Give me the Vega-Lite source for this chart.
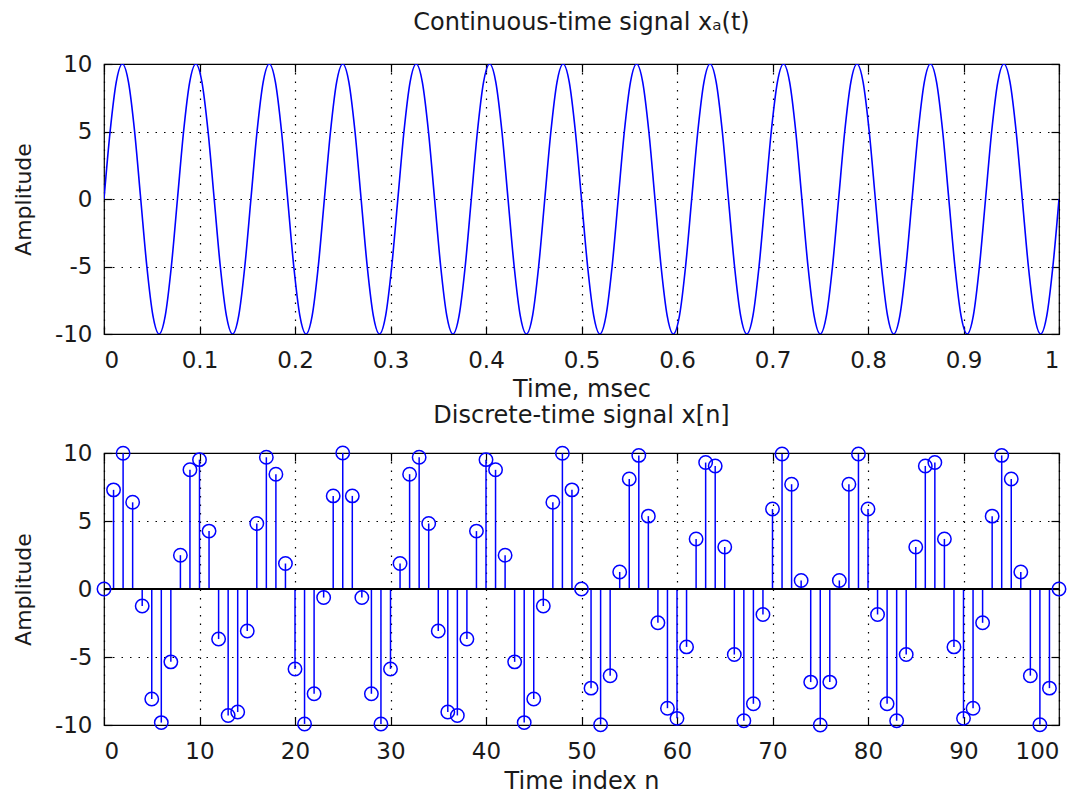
{
  "$schema": "https://vega.github.io/schema/vega-lite/v6.json",
  "background": "white",
  "padding": {"left": 11, "top": 10, "right": 20, "bottom": 0},
  "spacing": 1,
  "datasets": {
    "cont": [
      {"t":0,"x":0},{"t":0.00641,"x":5},{"t":0.01282,"x":8.66},{"t":0.01923,"x":10},{"t":0.02564,"x":8.66},{"t":0.03205,"x":5},{"t":0.03846,"x":0},{"t":0.04487,"x":-5},{"t":0.05128,"x":-8.66},{"t":0.05769,"x":-10},{"t":0.0641,"x":-8.66},{"t":0.07051,"x":-5},
      {"t":0.07692,"x":0},{"t":0.08333,"x":5},{"t":0.08974,"x":8.66},{"t":0.09615,"x":10},{"t":0.10256,"x":8.66},{"t":0.10897,"x":5},{"t":0.11538,"x":0},{"t":0.12179,"x":-5},{"t":0.12821,"x":-8.66},{"t":0.13462,"x":-10},{"t":0.14103,"x":-8.66},{"t":0.14744,"x":-5},
      {"t":0.15385,"x":0},{"t":0.16026,"x":5},{"t":0.16667,"x":8.66},{"t":0.17308,"x":10},{"t":0.17949,"x":8.66},{"t":0.1859,"x":5},{"t":0.19231,"x":0},{"t":0.19872,"x":-5},{"t":0.20513,"x":-8.66},{"t":0.21154,"x":-10},{"t":0.21795,"x":-8.66},{"t":0.22436,"x":-5},
      {"t":0.23077,"x":0},{"t":0.23718,"x":5},{"t":0.24359,"x":8.66},{"t":0.25,"x":10},{"t":0.25641,"x":8.66},{"t":0.26282,"x":5},{"t":0.26923,"x":0},{"t":0.27564,"x":-5},{"t":0.28205,"x":-8.66},{"t":0.28846,"x":-10},{"t":0.29487,"x":-8.66},{"t":0.30128,"x":-5},
      {"t":0.30769,"x":0},{"t":0.3141,"x":5},{"t":0.32051,"x":8.66},{"t":0.32692,"x":10},{"t":0.33333,"x":8.66},{"t":0.33974,"x":5},{"t":0.34615,"x":0},{"t":0.35256,"x":-5},{"t":0.35897,"x":-8.66},{"t":0.36538,"x":-10},{"t":0.37179,"x":-8.66},{"t":0.37821,"x":-5},
      {"t":0.38462,"x":0},{"t":0.39103,"x":5},{"t":0.39744,"x":8.66},{"t":0.40385,"x":10},{"t":0.41026,"x":8.66},{"t":0.41667,"x":5},{"t":0.42308,"x":0},{"t":0.42949,"x":-5},{"t":0.4359,"x":-8.66},{"t":0.44231,"x":-10},{"t":0.44872,"x":-8.66},{"t":0.45513,"x":-5},
      {"t":0.46154,"x":0},{"t":0.46795,"x":5},{"t":0.47436,"x":8.66},{"t":0.48077,"x":10},{"t":0.48718,"x":8.66},{"t":0.49359,"x":5},{"t":0.5,"x":0},{"t":0.50641,"x":-5},{"t":0.51282,"x":-8.66},{"t":0.51923,"x":-10},{"t":0.52564,"x":-8.66},{"t":0.53205,"x":-5},
      {"t":0.53846,"x":0},{"t":0.54487,"x":5},{"t":0.55128,"x":8.66},{"t":0.55769,"x":10},{"t":0.5641,"x":8.66},{"t":0.57051,"x":5},{"t":0.57692,"x":0},{"t":0.58333,"x":-5},{"t":0.58974,"x":-8.66},{"t":0.59615,"x":-10},{"t":0.60256,"x":-8.66},{"t":0.60897,"x":-5},
      {"t":0.61538,"x":0},{"t":0.62179,"x":5},{"t":0.62821,"x":8.66},{"t":0.63462,"x":10},{"t":0.64103,"x":8.66},{"t":0.64744,"x":5},{"t":0.65385,"x":0},{"t":0.66026,"x":-5},{"t":0.66667,"x":-8.66},{"t":0.67308,"x":-10},{"t":0.67949,"x":-8.66},{"t":0.6859,"x":-5},
      {"t":0.69231,"x":0},{"t":0.69872,"x":5},{"t":0.70513,"x":8.66},{"t":0.71154,"x":10},{"t":0.71795,"x":8.66},{"t":0.72436,"x":5},{"t":0.73077,"x":0},{"t":0.73718,"x":-5},{"t":0.74359,"x":-8.66},{"t":0.75,"x":-10},{"t":0.75641,"x":-8.66},{"t":0.76282,"x":-5},
      {"t":0.76923,"x":0},{"t":0.77564,"x":5},{"t":0.78205,"x":8.66},{"t":0.78846,"x":10},{"t":0.79487,"x":8.66},{"t":0.80128,"x":5},{"t":0.80769,"x":0},{"t":0.8141,"x":-5},{"t":0.82051,"x":-8.66},{"t":0.82692,"x":-10},{"t":0.83333,"x":-8.66},{"t":0.83974,"x":-5},
      {"t":0.84615,"x":0},{"t":0.85256,"x":5},{"t":0.85897,"x":8.66},{"t":0.86538,"x":10},{"t":0.87179,"x":8.66},{"t":0.87821,"x":5},{"t":0.88462,"x":0},{"t":0.89103,"x":-5},{"t":0.89744,"x":-8.66},{"t":0.90385,"x":-10},{"t":0.91026,"x":-8.66},{"t":0.91667,"x":-5},
      {"t":0.92308,"x":0},{"t":0.92949,"x":5},{"t":0.9359,"x":8.66},{"t":0.94231,"x":10},{"t":0.94872,"x":8.66},{"t":0.95513,"x":5},{"t":0.96154,"x":0},{"t":0.96795,"x":-5},{"t":0.97436,"x":-8.66},{"t":0.98077,"x":-10},{"t":0.98718,"x":-8.66},{"t":0.99359,"x":-5},
      {"t":1,"x":0}
    ],
    "disc": [
      {"n":0,"x":0},{"n":1,"x":7.29},{"n":2,"x":9.98},{"n":3,"x":6.374},{"n":4,"x":-1.253},{"n":5,"x":-8.09},{"n":6,"x":-9.823},{"n":7,"x":-5.358},{"n":8,"x":2.487},{"n":9,"x":8.763},
      {"n":10,"x":9.511},{"n":11,"x":4.258},{"n":12,"x":-3.681},{"n":13,"x":-9.298},{"n":14,"x":-9.048},{"n":15,"x":-3.09},{"n":16,"x":4.818},{"n":17,"x":9.686},{"n":18,"x":8.443},{"n":19,"x":1.874},
      {"n":20,"x":-5.878},{"n":21,"x":-9.921},{"n":22,"x":-7.705},{"n":23,"x":-0.628},{"n":24,"x":6.845},{"n":25,"x":10},{"n":26,"x":6.845},{"n":27,"x":-0.628},{"n":28,"x":-7.705},{"n":29,"x":-9.921},
      {"n":30,"x":-5.878},{"n":31,"x":1.874},{"n":32,"x":8.443},{"n":33,"x":9.686},{"n":34,"x":4.818},{"n":35,"x":-3.09},{"n":36,"x":-9.048},{"n":37,"x":-9.298},{"n":38,"x":-3.681},{"n":39,"x":4.258},
      {"n":40,"x":9.511},{"n":41,"x":8.763},{"n":42,"x":2.487},{"n":43,"x":-5.358},{"n":44,"x":-9.823},{"n":45,"x":-8.09},{"n":46,"x":-1.253},{"n":47,"x":6.374},{"n":48,"x":9.98},{"n":49,"x":7.29},
      {"n":50,"x":0},{"n":51,"x":-7.29},{"n":52,"x":-9.98},{"n":53,"x":-6.374},{"n":54,"x":1.253},{"n":55,"x":8.09},{"n":56,"x":9.823},{"n":57,"x":5.358},{"n":58,"x":-2.487},{"n":59,"x":-8.763},
      {"n":60,"x":-9.511},{"n":61,"x":-4.258},{"n":62,"x":3.681},{"n":63,"x":9.298},{"n":64,"x":9.048},{"n":65,"x":3.09},{"n":66,"x":-4.818},{"n":67,"x":-9.686},{"n":68,"x":-8.443},{"n":69,"x":-1.874},
      {"n":70,"x":5.878},{"n":71,"x":9.921},{"n":72,"x":7.705},{"n":73,"x":0.628},{"n":74,"x":-6.845},{"n":75,"x":-10},{"n":76,"x":-6.845},{"n":77,"x":0.628},{"n":78,"x":7.705},{"n":79,"x":9.921},
      {"n":80,"x":5.878},{"n":81,"x":-1.874},{"n":82,"x":-8.443},{"n":83,"x":-9.686},{"n":84,"x":-4.818},{"n":85,"x":3.09},{"n":86,"x":9.048},{"n":87,"x":9.298},{"n":88,"x":3.681},{"n":89,"x":-4.258},
      {"n":90,"x":-9.511},{"n":91,"x":-8.763},{"n":92,"x":-2.487},{"n":93,"x":5.358},{"n":94,"x":9.823},{"n":95,"x":8.09},{"n":96,"x":1.253},{"n":97,"x":-6.374},{"n":98,"x":-9.98},{"n":99,"x":-7.29},
      {"n":100,"x":0}
    ]
  },
  "vconcat": [
    {
      "width": 955,
      "height": 270,
      "title": {"text": "Continuous-time signal xₐ(t)", "offset": 18},
      "data": {"name": "cont"},
      "layer": [
        {
          "mark": {"type": "line", "color": "#0000ff", "strokeWidth": 1.6, "interpolate": "monotone", "clip": true},
          "encoding": {
            "x": {"field": "t", "type": "quantitative", "scale": {"domain": [0, 1], "nice": false, "zero": false},
                  "axis": {"values": [0,0.1,0.2,0.3,0.4,0.5,0.6,0.7,0.8,0.9,1], "format": "~g", "title": "Time, msec", "titlePadding": 5}},
            "y": {"field": "x", "type": "quantitative", "scale": {"domain": [-10, 10], "nice": false},
                  "axis": {"values": [-10,-5,0,5,10], "title": "Amplitude", "labelExpr": "replace(datum.label, '−', '-')"}}
          }
        },
        {
          "mark": {"type": "line", "opacity": 0},
          "encoding": {
            "x": {"field": "t", "type": "quantitative", "axis": {"orient": "top", "values": [0,0.1,0.2,0.3,0.4,0.5,0.6,0.7,0.8,0.9,1], "labels": false, "grid": false, "title": null}},
            "y": {"field": "x", "type": "quantitative", "axis": {"orient": "right", "values": [-10,-5,0,5,10], "labels": false, "grid": false, "title": null}}
          }
        }
      ],
      "resolve": {"axis": {"x": "independent", "y": "independent"}}
    },
    {
      "width": 955,
      "height": 272,
      "title": {"text": "Discrete-time signal x[n]", "offset": 14},
      "data": {"name": "disc"},
      "layer": [
        {
          "mark": {"type": "rule", "color": "#0000ff", "strokeWidth": 1.5},
          "encoding": {
            "x": {"field": "n", "type": "quantitative", "scale": {"domain": [0, 100], "nice": false},
                  "axis": {"values": [0,10,20,30,40,50,60,70,80,90,100], "title": "Time index n", "titlePadding": 6}},
            "y": {"field": "x", "type": "quantitative", "scale": {"domain": [-10, 10], "nice": false},
                  "axis": {"values": [-10,-5,0,5,10], "title": "Amplitude", "labelExpr": "replace(datum.label, '−', '-')"}},
            "y2": {"datum": 0}
          }
        },
        {
          "mark": {"type": "rule", "color": "black", "strokeWidth": 1.5},
          "encoding": {"y": {"datum": 0, "axis": null}}
        },
        {
          "mark": {"type": "point", "shape": "circle", "filled": false, "color": "#0000ff", "strokeWidth": 1.5, "size": 180, "opacity": 1},
          "encoding": {
            "x": {"field": "n", "type": "quantitative", "axis": null},
            "y": {"field": "x", "type": "quantitative", "axis": null}
          }
        },
        {
          "mark": {"type": "point", "opacity": 0},
          "encoding": {
            "x": {"field": "n", "type": "quantitative", "axis": {"orient": "top", "values": [0,10,20,30,40,50,60,70,80,90,100], "labels": false, "grid": false, "title": null}},
            "y": {"field": "x", "type": "quantitative", "axis": {"orient": "right", "values": [-10,-5,0,5,10], "labels": false, "grid": false, "title": null}}
          }
        }
      ],
      "resolve": {"axis": {"x": "independent", "y": "independent"}}
    }
  ],
  "config": {
    "font": "DejaVu Sans",
    "view": {"stroke": "black", "strokeWidth": 1.2},
    "axis": {
      "domain": false,
      "ticks": true,
      "tickColor": "black",
      "tickSize": -8,
      "tickWidth": 1.2,
      "labelFont": "DejaVu Sans",
      "labelFontSize": 23,
      "labelColor": "#1a1a1a",
      "titleFont": "DejaVu Sans",
      "titleFontSize": 24,
      "titleFontWeight": "normal",
      "titleColor": "#1a1a1a",
      "grid": true,
      "gridColor": "black",
      "gridDash": [1.5, 7],
      "gridWidth": 1.2,
      "gridOpacity": 1
    },
    "axisX": {"labelPadding": 23, "titlePadding": 9},
    "axisY": {"labelPadding": 20, "titlePadding": 19, "titleFontSize": 22},
    "title": {"font": "DejaVu Sans", "fontSize": 24, "fontWeight": "normal", "color": "#1a1a1a"}
  }
}
